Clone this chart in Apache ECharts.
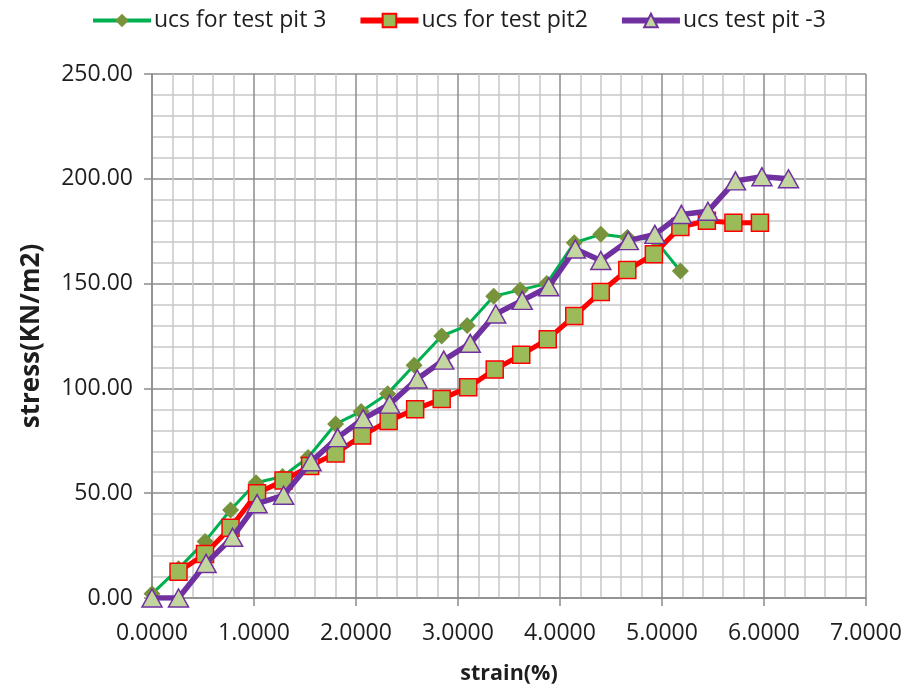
<!DOCTYPE html>
<html>
<head>
<meta charset="utf-8">
<script src="https://cdn.jsdelivr.net/npm/echarts@6/dist/echarts.min.js"></script>
<style>
  html, body { margin: 0; padding: 0; background: #fff; }
  #chart { width: 907px; height: 690px; }
</style>
</head>
<body>
<div id="chart"></div>
<script>
// Unconfined compressive strength tests: strain (%) vs stress (KN/m2)
const seriesNames = ['ucs for test pit 3', 'ucs for test pit2', 'ucs test pit -3'];

const pit3Strain = [0, 0.26, 0.52, 0.77, 1.02, 1.28, 1.53, 1.80, 2.05, 2.31, 2.57, 2.84, 3.09, 3.35, 3.61, 3.87, 4.14, 4.40, 4.66, 4.93, 5.18];
const pit3Stress = [2, 14, 27, 42, 55, 58, 67, 83, 89, 97.5, 111, 125, 130, 144, 147, 150, 169.5, 173.5, 172, 171, 156];

const pit2Strain = [0.26, 0.52, 0.77, 1.03, 1.29, 1.55, 1.80, 2.06, 2.32, 2.58, 2.84, 3.10, 3.36, 3.62, 3.88, 4.14, 4.40, 4.66, 4.92, 5.18, 5.44, 5.70, 5.96];
const pit2Stress = [12.5, 21, 33.5, 50, 56, 63, 69, 77.5, 84.5, 90, 95, 100.5, 109, 116, 123.5, 134.5, 146, 156.5, 164, 177, 180, 179, 179];

const pitM3Strain = [0, 0.26, 0.53, 0.79, 1.03, 1.29, 1.56, 1.82, 2.07, 2.33, 2.60, 2.86, 3.12, 3.37, 3.63, 3.89, 4.15, 4.40, 4.67, 4.93, 5.19, 5.45, 5.72, 5.98, 6.24];
const pitM3Stress = [0, 0, 16.5, 29, 45, 49, 65, 76.5, 85.5, 92.5, 104.5, 113.5, 121.5, 135.5, 142, 148.5, 166.5, 161, 170.5, 173.5, 183, 184.5, 199, 201, 200];

const xTicks = { min: 0, max: 7, step: 1 };
const yTicks = { min: 0, max: 250, step: 50 };

const pairs = (xs, ys) => xs.map((x, i) => [x, ys[i]]);
const FONT = '"Open Sans", Lato, sans-serif';
const INK = '#1e1e1e';
const legendLineWidths = [4, 6, 6];

const chart = echarts.init(document.getElementById('chart'));
chart.setOption({
  animation: false,
  backgroundColor: '#fff',
  textStyle: { fontFamily: FONT },
  legend: {
    top: 4,
    left: 86,
    itemWidth: 58,
    itemHeight: 17,
    itemGap: 31,
    textStyle: { fontSize: 23, color: INK, fontFamily: FONT, padding: [0, 0, 0, -2] },
    data: seriesNames.map((n, i) => ({ name: n, lineStyle: { width: legendLineWidths[i] } }))
  },
  grid: { left: 152, right: 41, top: 74, bottom: 90 },
  xAxis: {
    type: 'value',
    min: xTicks.min, max: xTicks.max, interval: xTicks.step,
    name: 'strain(%)',
    nameLocation: 'middle',
    nameGap: 65,
    nameTextStyle: { fontSize: 21.5, fontWeight: 'bold', color: INK, fontFamily: FONT },
    axisLine: { show: true, lineStyle: { color: '#8c8c8c', width: 1.5 } },
    axisTick: { show: true, length: 8, lineStyle: { color: '#8c8c8c', width: 1.5 } },
    axisLabel: { fontSize: 23, color: INK, margin: 24, formatter: v => v.toFixed(4) },
    splitLine: { show: true, lineStyle: { color: '#8c8c8c', width: 1.5 } },
    minorTick: { show: false, splitNumber: 5 },
    minorSplitLine: { show: true, lineStyle: { color: '#c8c8c8', width: 1.5 } }
  },
  yAxis: {
    type: 'value',
    min: yTicks.min, max: yTicks.max, interval: yTicks.step,
    name: 'stress(KN/m2)',
    nameLocation: 'middle',
    nameGap: 107,
    nameRotate: 90,
    nameTextStyle: { fontSize: 26, fontWeight: 'bold', color: INK, fontFamily: FONT },
    axisLine: { show: true, lineStyle: { color: '#8c8c8c', width: 1.5 } },
    axisTick: { show: true, length: 8, lineStyle: { color: '#8c8c8c', width: 1.5 } },
    axisLabel: { fontSize: 23, color: INK, margin: 19, formatter: v => v.toFixed(2) },
    splitLine: { show: true, lineStyle: { color: '#8c8c8c', width: 1.5 } },
    minorTick: { show: false, splitNumber: 5 },
    minorSplitLine: { show: true, lineStyle: { color: '#c8c8c8', width: 1.5 } }
  },
  series: [
    {
      name: seriesNames[0],
      type: 'line',
      data: pairs(pit3Strain, pit3Stress),
      symbol: 'diamond',
      symbolSize: 17,
      lineStyle: { color: '#00B050', width: 3 },
      itemStyle: { color: '#77933C', borderColor: '#77933C', borderWidth: 0 },
      z: 2
    },
    {
      name: seriesNames[1],
      type: 'line',
      data: pairs(pit2Strain, pit2Stress),
      symbol: 'rect',
      symbolSize: 17,
      lineStyle: { color: '#FF0000', width: 5 },
      itemStyle: { color: '#9BBB59', borderColor: '#FF0000', borderWidth: 1.5 },
      z: 3
    },
    {
      name: seriesNames[2],
      type: 'line',
      data: pairs(pitM3Strain, pitM3Stress),
      symbol: 'triangle',
      symbolSize: [20, 18],
      lineStyle: { color: '#7030A0', width: 5.5 },
      itemStyle: { color: '#C4D6A0', borderColor: '#7030A0', borderWidth: 1.5 },
      z: 4
    }
  ]
});
</script>
</body>
</html>
